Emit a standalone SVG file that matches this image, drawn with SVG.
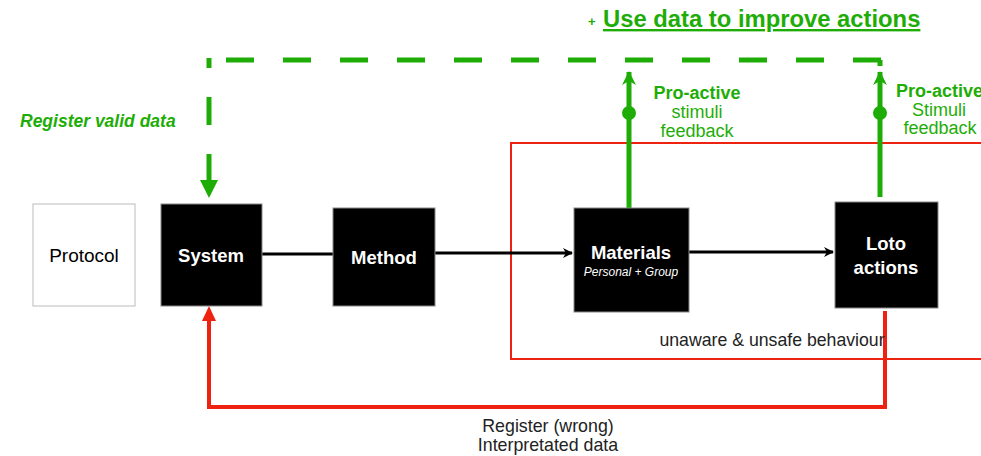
<svg xmlns="http://www.w3.org/2000/svg" width="981" height="456" viewBox="0 0 981 456">
<defs>
<style>
text{font-family:"Liberation Sans",Arial,sans-serif}
.g{fill:#1ead07}
.blk{fill:#000;stroke:#888;stroke-width:1}
.wt{fill:#fff;font-size:18.5px;font-weight:bold;text-anchor:middle}
.lbl{font-size:17.8px;text-anchor:middle;fill:#222}
.gd{fill:none;stroke:#1ead07;stroke-width:5}
</style>
<marker id="ab" markerWidth="10" markerHeight="10" refX="9" refY="5" orient="auto" markerUnits="userSpaceOnUse" viewBox="0 0 10 10">
<path d="M0,0 L10,5 L0,10 L3,5 Z" fill="#000"/>
</marker>
<marker id="ag" markerWidth="14" markerHeight="18" refX="13" refY="7" orient="auto" markerUnits="userSpaceOnUse" viewBox="0 0 14 14">
<path d="M0,0 L14,7 L0,14 L4,7 Z" fill="#1ead07"/>
</marker>
</defs>
<g id="connectors">
<rect x="511" y="143" width="480" height="216" fill="none" stroke="#ee2211" stroke-width="2"/>
<path class="gd" d="M226,60 H881" stroke-dasharray="28 29"/>
<path class="gd" d="M880,60 V66"/>
<path class="gd" d="M209,58 V68 M209,97 V125 M209,154 V181"/>
<path d="M200,180 L218,180 L209,198 Z" fill="#1ead07"/>
<path class="gd" d="M629,208 V72" marker-end="url(#ag)"/>
<path class="gd" d="M880,197 V72" marker-end="url(#ag)"/>
<circle cx="629" cy="113" r="7" fill="#1ead07"/>
<circle cx="880" cy="113" r="7" fill="#1ead07"/>
<path d="M885,311 V407 H209 V320" fill="none" stroke="#ee2211" stroke-width="4"/>
<path d="M202,321 L216,321 L209,306 Z" fill="#ee2211"/>
<path d="M262,254 H333" stroke="#000" stroke-width="3"/>
<path d="M435,253 H572" stroke="#000" stroke-width="3" marker-end="url(#ab)"/>
<path d="M689,252 H833" stroke="#000" stroke-width="3" marker-end="url(#ab)"/>
</g>
<g id="protocol">
<rect x="33" y="204" width="102" height="102" fill="#fff" stroke="#bbb" stroke-width="1"/>
<text x="84" y="262" font-size="19" text-anchor="middle" fill="#000">Protocol</text>
</g>
<g id="system">
<rect class="blk" x="161" y="204" width="101" height="102"/>
<text class="wt" x="211" y="262">System</text>
</g>
<g id="method">
<rect class="blk" x="333" y="208" width="102" height="98"/>
<text class="wt" x="384" y="264">Method</text>
</g>
<g id="materials">
<rect class="blk" x="574" y="208" width="115" height="104"/>
<text class="wt" x="631" y="259">Materials</text>
<text x="631" y="276" fill="#fff" font-size="12" font-style="italic" text-anchor="middle">Personal + Group</text>
</g>
<g id="loto">
<rect class="blk" x="835" y="202" width="103" height="106"/>
<text class="wt" x="886" y="250">Loto</text>
<text class="wt" x="886" y="274">actions</text>
</g>
<g id="labels">
<text x="588" y="26" font-size="13" font-weight="bold" class="g">+</text>
<text x="603" y="27" font-size="23.8" font-weight="bold" class="g" text-decoration="underline">Use data to improve actions</text>
<text x="20" y="127" font-size="17.5" font-weight="bold" font-style="italic" class="g">Register valid data</text>
<text x="697" y="99" font-size="18" font-weight="bold" class="g" text-anchor="middle">Pro-active</text>
<text x="697" y="118" font-size="18" class="g" text-anchor="middle">stimuli</text>
<text x="697" y="137" font-size="18" class="g" text-anchor="middle">feedback</text>
<text x="896" y="97" font-size="18" font-weight="bold" class="g">Pro-active</text>
<text x="939" y="116" font-size="18" class="g" text-anchor="middle">Stimuli</text>
<text x="940" y="134" font-size="18" class="g" text-anchor="middle">feedback</text>
<text x="772" y="346" font-size="17.7" fill="#222" text-anchor="middle">unaware &amp; unsafe behaviour</text>
<text class="lbl" x="548" y="432">Register (wrong)</text>
<text class="lbl" x="548" y="451">Interpretated data</text>
</g>
</svg>
